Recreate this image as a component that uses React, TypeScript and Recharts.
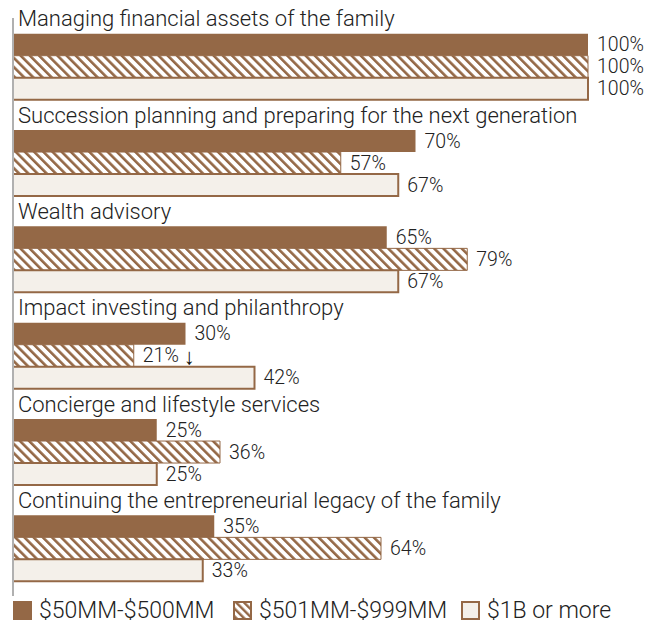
import { BarChart, Bar, XAxis, YAxis, LabelList } from "recharts";

const categories = [
  "Managing financial assets of the family",
  "Succession planning and preparing for the next generation",
  "Wealth advisory",
  "Impact investing and philanthropy",
  "Concierge and lifestyle services",
  "Continuing the entrepreneurial legacy of the family",
];
const small = [100, 70, 65, 30, 25, 35];
const mid = [100, 57, 79, 21, 36, 64];
const large = [100, 67, 67, 42, 25, 33];
// down arrow shown next to mid-tier value
const midArrow = [false, false, false, true, false, false];

const seriesNames = ["$50MM-$500MM", "$501MM-$999MM", "$1B or more"];
const legendLeft = [13, 233, 461];

const BROWN = "#946846";
const CREAM = "#f4f0ea";
const FONT = "Roboto, 'Noto Sans', sans-serif";

const data = categories.map((name, i) => ({
  name,
  small: small[i],
  mid: mid[i],
  large: large[i],
  arrow: midArrow[i],
}));

function CategoryTick(props: any) {
  const { y, payload } = props;
  return (
    <text x={18} y={y - 47.5} dominantBaseline="central" fontSize={22} fontWeight={300} fill="#222" fontFamily={FONT}>
      {payload.value}
    </text>
  );
}

function ValueLabel(props: any) {
  const { x, y, width, height, value, index, withArrow } = props;
  const showArrow = withArrow && data[index]?.arrow;
  return (
    <text
      x={x + width + 9}
      y={y + height / 2}
      dominantBaseline="central"
      fontSize={19.5}
      fontWeight={300}
      fill="#222"
      fontFamily={FONT}
    >
      {`${value}%`}
      {showArrow && (
        <tspan dx={5} fontSize={22} fontWeight={500} fill="#111">
          ↓
        </tspan>
      )}
    </text>
  );
}

function LegendBox() {
  return (
    <div style={{ position: "absolute", left: 0, top: 597, width: 663, height: 28 }}>
      {seriesNames.map((n, i) => (
        <div
          key={n}
          style={{
            position: "absolute",
            left: legendLeft[i],
            top: 0,
            display: "flex",
            alignItems: "center",
            fontFamily: FONT,
            fontWeight: 300,
            fontSize: 23,
            color: "#222",
            whiteSpace: "nowrap",
          }}
        >
          <svg width={19} height={19} style={{ marginRight: 7 }}>
            <defs>
              <pattern id="hatch-leg" patternUnits="userSpaceOnUse" width={5.5} height={5.5} patternTransform="rotate(-45)">
                <rect width={5.5} height={5.5} fill="#fff" />
                <rect width={2.4} height={5.5} fill={BROWN} />
              </pattern>
            </defs>
            {i === 0 && <rect x={0} y={0} width={19} height={19} fill={BROWN} />}
            {i === 1 && <rect x={1} y={1} width={17} height={17} fill="url(#hatch-leg)" stroke={BROWN} strokeWidth={2} />}
            {i === 2 && <rect x={1} y={1} width={17} height={17} fill={CREAM} stroke={BROWN} strokeWidth={2} />}
          </svg>
          <span>{n}</span>
        </div>
      ))}
    </div>
  );
}

export default function App() {
  return (
    <div style={{ position: "absolute", left: 0, top: 0, width: 663, height: 628, background: "#fff" }}>
      <BarChart
        width={663}
        height={628}
        data={data}
        layout="vertical"
        margin={{ top: 18, right: 75, bottom: 32, left: 12 }}
        barCategoryGap={15.7}
        barGap={0}
      >
        <defs>
          <pattern id="hatch" patternUnits="userSpaceOnUse" width={6.5} height={6.5} patternTransform="rotate(-45)">
            <rect width={6.5} height={6.5} fill="#fff" />
            <rect width={2.6} height={6.5} fill={BROWN} />
          </pattern>
        </defs>
        <XAxis type="number" domain={[0, 100]} hide />
        <YAxis
          type="category"
          dataKey="name"
          width={1}
          axisLine={{ stroke: "#b0b0b0", strokeWidth: 2 }}
          tickLine={false}
          tick={<CategoryTick />}
          interval={0}
        />
        <Bar dataKey="small" fill={BROWN} isAnimationActive={false}>
          <LabelList dataKey="small" content={<ValueLabel />} />
        </Bar>
        <Bar dataKey="mid" fill="url(#hatch)" stroke={BROWN} strokeWidth={1} isAnimationActive={false}>
          <LabelList dataKey="mid" content={<ValueLabel withArrow />} />
        </Bar>
        <Bar dataKey="large" fill={CREAM} stroke={BROWN} strokeWidth={2} isAnimationActive={false}>
          <LabelList dataKey="large" content={<ValueLabel />} />
        </Bar>
      </BarChart>
      <LegendBox />
    </div>
  );
}
